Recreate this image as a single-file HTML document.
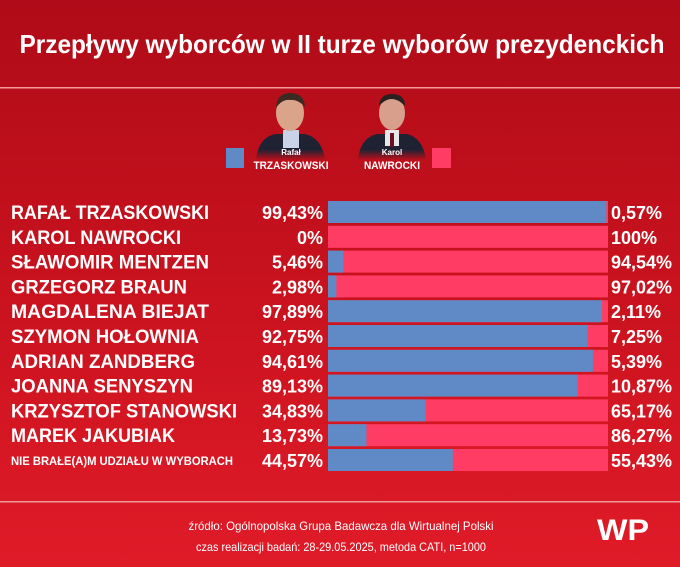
<!DOCTYPE html>
<html><head><meta charset="utf-8"><style>
html,body{margin:0;padding:0;width:680px;height:567px;overflow:hidden}
svg{display:block}
text{font-family:"Liberation Sans",sans-serif;font-weight:bold;fill:#fff}
</style></head><body>
<svg width="680" height="567" viewBox="0 0 680 567" xmlns="http://www.w3.org/2000/svg">
<defs>
<linearGradient id="bg" x1="0" y1="0" x2="0" y2="1">
<stop offset="0" stop-color="#b00b18"/><stop offset="0.5" stop-color="#c8121e"/><stop offset="1" stop-color="#e01b28"/>
</linearGradient>
<linearGradient id="fade" x1="0" y1="0" x2="0" y2="1">
<stop offset="0.6" stop-color="#1e2233" stop-opacity="1"/><stop offset="1" stop-color="#1e2233" stop-opacity="0"/>
</linearGradient>
</defs>
<rect width="680" height="567" fill="url(#bg)"/>
<text x="342" y="53" font-size="26" text-anchor="middle" textLength="645" lengthAdjust="spacingAndGlyphs">Przepływy wyborców w II turze wyborów prezydenckich</text>
<rect x="0" y="87" width="680" height="1.5" fill="#f09a9a"/>
<rect x="0" y="501" width="680" height="1.5" fill="#f09a9a"/>

<path d="M256 160 Q258 138 275 134 L305 134 Q322 138 325 160 Z" fill="url(#fade)"/>
<rect x="283" y="130" width="16" height="18" fill="#c9d2e6"/>
<ellipse cx="290" cy="113" rx="14" ry="18" fill="#d9a48a"/>
<path d="M276 108 Q277 93 290 93 Q304 93 305 107 Q298 99 290 100 Q282 99 276 108Z" fill="#3a2a22"/>
<path d="M358 160 Q360 138 377 134 L407 134 Q423 138 426 160 Z" fill="url(#fade)"/>
<rect x="385" y="130" width="14" height="16" fill="#e8e8ea"/>
<rect x="390" y="133" width="4" height="14" fill="#6a1020"/>
<ellipse cx="392" cy="113" rx="13" ry="17" fill="#d8a08c"/>
<path d="M379 106 Q380 94 392 94 Q405 94 405 106 Q398 99 392 99 Q385 99 379 106Z" fill="#2a2020"/>
<text x="291" y="155" font-size="8" text-anchor="middle">Rafał</text>
<text x="291" y="169" font-size="11" text-anchor="middle" textLength="75" lengthAdjust="spacingAndGlyphs">TRZASKOWSKI</text>
<text x="392" y="155" font-size="8" text-anchor="middle">Karol</text>
<text x="392" y="169" font-size="11" text-anchor="middle" textLength="56" lengthAdjust="spacingAndGlyphs">NAWROCKI</text>
<rect x="226" y="148" width="18" height="20" fill="#5f8ac6"/>
<rect x="432" y="148" width="19" height="20" fill="#ff3d64"/>

<g id="rows"></g>

<text x="341" y="530" font-size="12" text-anchor="middle" style="font-weight:normal" textLength="305" lengthAdjust="spacingAndGlyphs">źródło: Ogólnopolska Grupa Badawcza dla Wirtualnej Polski</text>
<text x="341" y="551" font-size="12" text-anchor="middle" style="font-weight:normal" textLength="290" lengthAdjust="spacingAndGlyphs">czas realizacji badań: 28-29.05.2025, metoda CATI, n=1000</text>
<text x="597" y="540" font-size="30" style="font-weight:900" textLength="52" lengthAdjust="spacingAndGlyphs">WP</text>
</svg>
<script>
var d=[["RAFAŁ TRZASKOWSKI",99.43,"99,43%","0,57%"],["KAROL NAWROCKI",0,"0%","100%"],["SŁAWOMIR MENTZEN",5.46,"5,46%","94,54%"],["GRZEGORZ BRAUN",2.98,"2,98%","97,02%"],["MAGDALENA BIEJAT",97.89,"97,89%","2,11%"],["SZYMON HOŁOWNIA",92.75,"92,75%","7,25%"],["ADRIAN ZANDBERG",94.61,"94,61%","5,39%"],["JOANNA SENYSZYN",89.13,"89,13%","10,87%"],["KRZYSZTOF STANOWSKI",34.83,"34,83%","65,17%"],["MAREK JAKUBIAK",13.73,"13,73%","86,27%"],["NIE BRAŁE(A)M UDZIAŁU W WYBORACH",44.57,"44,57%","55,43%"]];
var g=document.getElementById("rows"),s="";
var widths=[198,170,198,176,198,188,184,182,226,164,222];
d.forEach(function(r,i){var t=201+i*24.8,x0=328,W=280,bw=W*r[1]/100;
s+='<rect x="'+x0+'" y="'+t+'" width="'+W+'" height="22" fill="#ff3d64"/>';
s+='<rect x="'+x0+'" y="'+t+'" width="'+bw+'" height="22" fill="#5f8ac6"/>';
var fs=i==10?12:19;
s+='<text x="11" y="'+(t+(i==10?16:18))+'" font-size="'+fs+'" textLength="'+widths[i]+'" lengthAdjust="spacingAndGlyphs">'+r[0]+'</text>';
s+='<text x="323" y="'+(t+18)+'" font-size="18" text-anchor="end">'+r[2]+'</text>';
s+='<text x="611" y="'+(t+18)+'" font-size="18">'+r[3]+'</text>';});
g.innerHTML=s;
</script>
</body></html>
